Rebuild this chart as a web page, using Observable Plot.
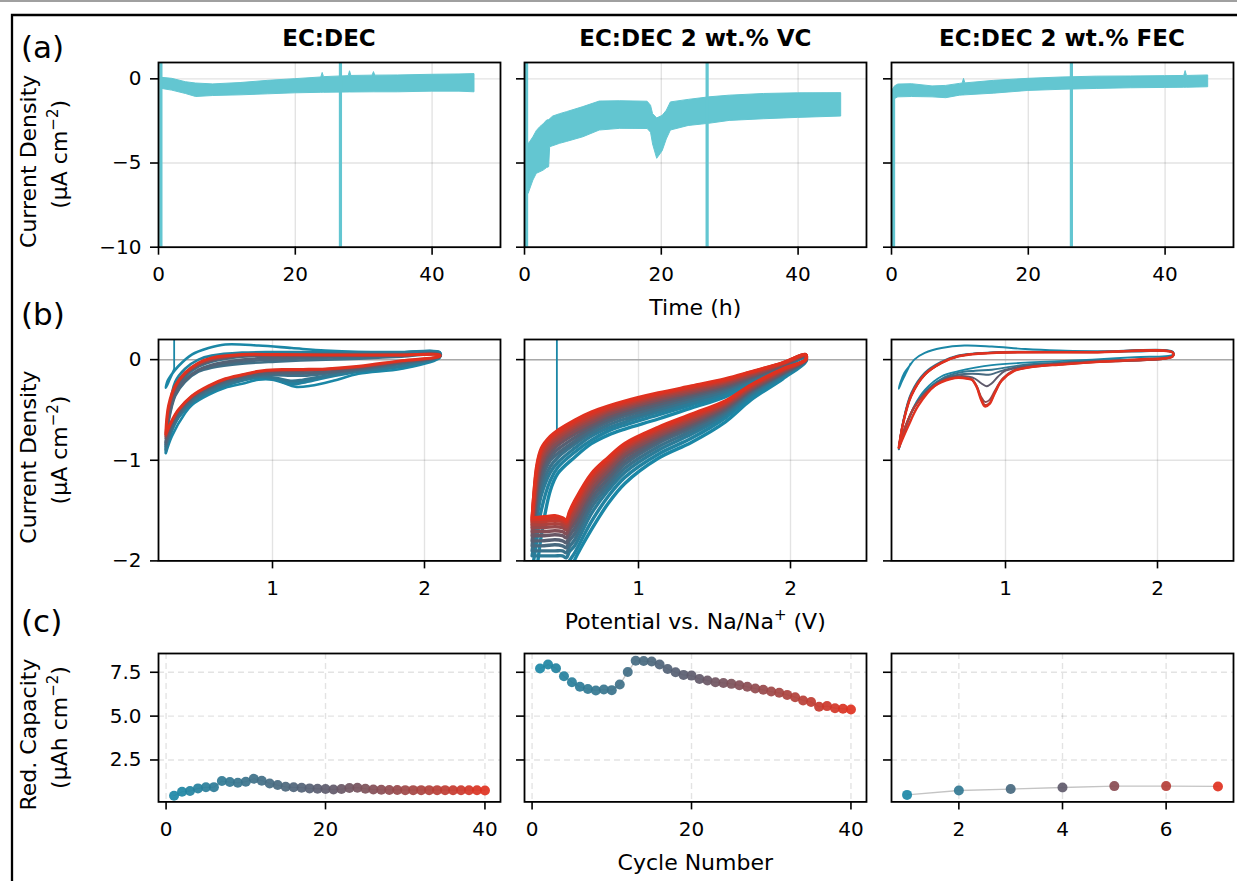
<!DOCTYPE html>
<html><head><meta charset="utf-8">
<script src="https://cdn.jsdelivr.net/npm/d3@7"></script>
<script src="https://cdn.jsdelivr.net/npm/@observablehq/plot@0.6"></script>
<style>
html,body{margin:0;padding:0;background:#fff;}
#fig{position:relative;width:1237px;height:881px;overflow:hidden;background:#fff;}
</style></head><body><div id="fig"></div>
<script>
// ---------- labels ----------
const electrolytes = ["EC:DEC", "EC:DEC 2 wt.% VC", "EC:DEC 2 wt.% FEC"];
const panelLetters = ["(a)", "(b)", "(c)"];

// ---------- (a) chronoamperometry: noisy trace drawn as band (upper / lower edge, µA cm^-2) ----------
const caTimeDEC = [0.5, 2, 4, 5.5, 8, 12, 16, 20, 23.8, 24, 24.2, 27.8, 28, 28.2, 31.3, 31.5, 31.7, 35, 40, 44, 46.2];
const caHiDEC   = [0.06, 0.0, -0.2, -0.28, -0.33, -0.25, -0.12, -0.02, 0.08, 0.35, 0.1, 0.16, 0.45, 0.17, 0.19, 0.4, 0.19, 0.2, 0.24, 0.26, 0.28];
const caLoDEC   = [-0.6, -0.7, -0.9, -1.08, -1.02, -0.98, -0.92, -0.86, -0.83, -0.83, -0.83, -0.81, -0.81, -0.81, -0.8, -0.8, -0.8, -0.8, -0.76, -0.76, -0.8];
const caSpikeTimeDEC = [0.35, 26.6];
const caSpikeTopDEC  = [1, 1];

const caTimeVC = [0.4, 0.6, 1.3, 1.8, 2.3, 2.8, 3.3, 3.6, 3.75, 4.2, 5.2, 6.2, 8.6, 11, 14, 18, 18.5, 18.8, 19.4, 20.2, 20.8, 21.4, 24, 27, 30, 35, 40, 46.3];
const caHiVC   = [-3.4, -3.9, -3.47, -3.1, -2.87, -2.7, -2.48, -2.45, -2.4, -2.24, -2.1, -1.98, -1.68, -1.35, -1.33, -1.36, -1.6, -2.1, -2.35, -2.2, -1.9, -1.4, -1.25, -1.1, -1.0, -0.9, -0.86, -0.85];
const caLoVC   = [-6.5, -6.83, -6.04, -5.64, -5.55, -5.45, -5.3, -5.25, -4.06, -4.0, -3.86, -3.75, -3.47, -3.07, -2.97, -2.98, -3.2, -3.9, -4.75, -4.3, -3.6, -3.07, -2.8, -2.67, -2.5, -2.4, -2.32, -2.24];
const caSpikeTimeVC = [0.3, 26.7];
const caSpikeTopVC  = [1, 1];

const caTimeFEC = [0.3, 0.5, 1, 3, 6, 8, 10, 10.4, 10.6, 10.8, 15, 20, 25, 30, 35, 40, 42.8, 43, 43.2, 46.3];
const caHiFEC   = [-0.6, -0.45, -0.34, -0.32, -0.45, -0.42, -0.3, -0.28, 0.0, -0.27, -0.12, 0.0, 0.08, 0.13, 0.14, 0.16, 0.17, 0.46, 0.17, 0.2];
const caLoFEC   = [-1.4, -1.2, -1.1, -1.08, -1.1, -1.15, -1.0, -0.99, -0.99, -0.98, -0.88, -0.72, -0.65, -0.6, -0.56, -0.54, -0.53, -0.53, -0.53, -0.5];
const caSpikeTimeFEC = [0.3, 26.3];
const caSpikeTopFEC  = [-0.6, 1];

// ---------- (b) cyclic voltammetry (V vs Na/Na+, µA cm^-2) ----------
// EC:DEC: first cycle (with start transient) + selected later cycles on shared potential grids
const cvDecFirst = [[0.353,-0.10],[0.325,-0.19],[0.298,-0.28],[0.31,-0.21],[0.33,-0.16],[0.38,-0.066],[0.469,0.05],[0.579,0.115],[0.689,0.15],[0.908,0.14],[1.127,0.115],[1.346,0.09],[1.566,0.076],[1.85,0.073],[2.10,0.073],[2.10,0.02],[1.85,-0.09],[1.566,-0.14],[1.40,-0.21],[1.25,-0.26],[1.15,-0.27],[1.07,-0.23],[1.0,-0.2],[0.908,-0.2],[0.80,-0.24],[0.689,-0.28],[0.579,-0.35],[0.47,-0.45],[0.425,-0.53],[0.338,-0.76],[0.298,-0.93]];
const cvDecSpike = [0.353, 0.25, -0.10];
const cvDecCycles = [3, 5, 8, 11, 14, 17, 22, 30, 40];
const cvDecUpV = [0.298, 0.316, 0.36, 0.425, 0.513, 0.60, 0.80, 1.02, 1.35, 1.57, 1.85, 2.10];
const cvDecUpI = [
  [-0.92, -0.55, -0.22, -0.09, 0.0, 0.04, 0.07, 0.075, 0.076, 0.076, 0.075, 0.075],
  [-0.90, -0.57, -0.26, -0.13, -0.035, 0.01, 0.05, 0.06, 0.068, 0.07, 0.07, 0.07],
  [-0.88, -0.58, -0.30, -0.17, -0.07, -0.02, 0.03, 0.045, 0.06, 0.065, 0.065, 0.065],
  [-0.85, -0.62, -0.36, -0.22, -0.12, -0.08, -0.04, -0.02, 0.0, 0.01, 0.03, 0.05],
  [-0.83, -0.60, -0.345, -0.21, -0.11, -0.065, -0.02, 0.0, 0.02, 0.03, 0.04, 0.05],
  [-0.82, -0.58, -0.33, -0.20, -0.10, -0.05, 0.0, 0.02, 0.035, 0.04, 0.045, 0.05],
  [-0.78, -0.52, -0.29, -0.15, -0.06, -0.01, 0.035, 0.04, 0.045, 0.045, 0.045, 0.05],
  [-0.76, -0.49, -0.275, -0.14, -0.045, 0.005, 0.045, 0.045, 0.046, 0.045, 0.045, 0.048],
  [-0.73, -0.46, -0.26, -0.13, -0.033, 0.017, 0.05, 0.05, 0.047, 0.045, 0.046, 0.046]
];
const cvDecDownV = [2.10, 1.85, 1.57, 1.35, 1.20, 1.12, 1.02, 0.91, 0.80, 0.69, 0.58, 0.47, 0.38, 0.33, 0.298];
const cvDecDownI = [
  [0.025, -0.07, -0.12, -0.18, -0.23, -0.245, -0.20, -0.18, -0.21, -0.26, -0.33, -0.43, -0.58, -0.74, -0.92],
  [0.028, -0.065, -0.115, -0.17, -0.215, -0.225, -0.19, -0.175, -0.205, -0.255, -0.325, -0.425, -0.575, -0.73, -0.905],
  [0.03, -0.06, -0.11, -0.16, -0.20, -0.21, -0.18, -0.17, -0.20, -0.25, -0.32, -0.42, -0.57, -0.72, -0.89],
  [0.03, -0.04, -0.10, -0.14, -0.16, -0.16, -0.155, -0.16, -0.185, -0.23, -0.30, -0.40, -0.55, -0.70, -0.86],
  [0.03, -0.035, -0.095, -0.13, -0.14, -0.14, -0.14, -0.15, -0.18, -0.22, -0.29, -0.39, -0.54, -0.69, -0.84],
  [0.03, -0.03, -0.09, -0.12, -0.13, -0.13, -0.13, -0.14, -0.17, -0.21, -0.28, -0.38, -0.53, -0.67, -0.82],
  [0.03, -0.02, -0.08, -0.10, -0.11, -0.11, -0.115, -0.125, -0.16, -0.20, -0.27, -0.37, -0.51, -0.65, -0.78],
  [0.032, -0.015, -0.072, -0.096, -0.103, -0.104, -0.107, -0.12, -0.155, -0.195, -0.265, -0.365, -0.505, -0.64, -0.76],
  [0.033, -0.01, -0.066, -0.092, -0.097, -0.099, -0.10, -0.115, -0.15, -0.19, -0.26, -0.36, -0.50, -0.63, -0.74]
];

// EC:DEC 2 wt.% VC
const cvVcSpike = [0.463, 0.3, -0.75];
const cvVcCycles = [1, 3, 6, 10, 14, 18, 22, 26, 29, 32, 35, 38, 40];
const cvVcUpV = [0.30, 0.31, 0.33, 0.36, 0.42, 0.47, 0.58, 0.69, 0.80, 0.91, 1.13, 1.35, 1.57, 1.74, 1.95, 2.10];
const cvVcUpI = [
  [-2.4, -2.3, -2.1, -1.75, -1.30, -1.13, -0.97, -0.835, -0.75, -0.69, -0.59, -0.48, -0.37, -0.24, -0.08, 0.02],
  [-2.1, -2.0, -1.8, -1.5, -1.2, -1.07, -0.92, -0.80, -0.71, -0.65, -0.55, -0.45, -0.35, -0.22, -0.075, 0.025],
  [-1.95, -1.85, -1.6, -1.35, -1.12, -1.02, -0.88, -0.76, -0.68, -0.62, -0.52, -0.43, -0.33, -0.21, -0.07, 0.03],
  [-1.9, -1.78, -1.52, -1.27, -1.06, -0.97, -0.84, -0.73, -0.65, -0.59, -0.495, -0.405, -0.31, -0.2, -0.065, 0.03],
  [-1.85, -1.7, -1.45, -1.2, -1.0, -0.93, -0.81, -0.70, -0.62, -0.56, -0.47, -0.38, -0.29, -0.19, -0.06, 0.03],
  [-1.8, -1.65, -1.39, -1.14, -0.96, -0.89, -0.775, -0.675, -0.595, -0.535, -0.445, -0.36, -0.275, -0.18, -0.055, 0.035],
  [-1.75, -1.6, -1.33, -1.08, -0.92, -0.85, -0.74, -0.65, -0.57, -0.51, -0.42, -0.34, -0.26, -0.17, -0.05, 0.04],
  [-1.71, -1.55, -1.27, -1.04, -0.885, -0.82, -0.71, -0.625, -0.545, -0.49, -0.40, -0.325, -0.245, -0.16, -0.045, 0.04],
  [-1.67, -1.5, -1.22, -1.0, -0.85, -0.79, -0.68, -0.60, -0.52, -0.47, -0.38, -0.31, -0.23, -0.15, -0.04, 0.04],
  [-1.64, -1.46, -1.17, -0.96, -0.825, -0.765, -0.66, -0.58, -0.505, -0.455, -0.365, -0.295, -0.22, -0.14, -0.038, 0.045],
  [-1.61, -1.42, -1.13, -0.93, -0.80, -0.74, -0.64, -0.56, -0.49, -0.44, -0.35, -0.28, -0.21, -0.13, -0.035, 0.05],
  [-1.59, -1.38, -1.09, -0.9, -0.78, -0.72, -0.62, -0.54, -0.475, -0.425, -0.34, -0.27, -0.2, -0.125, -0.032, 0.05],
  [-1.57, -1.35, -1.05, -0.88, -0.76, -0.70, -0.60, -0.52, -0.46, -0.41, -0.33, -0.26, -0.19, -0.12, -0.03, 0.05]
];
const cvVcDownV = [2.10, 1.95, 1.74, 1.57, 1.35, 1.13, 0.91, 0.80, 0.69, 0.58, 0.545, 0.525, 0.50, 0.45, 0.38, 0.31];
const cvVcDownI = [
  [-0.02, -0.19, -0.40, -0.62, -0.82, -0.98, -1.23, -1.43, -1.69, -1.99, -2.12, -2.2, -2.3, -2.3, -2.3, -2.3],
  [-0.015, -0.175, -0.37, -0.58, -0.78, -0.94, -1.17, -1.36, -1.61, -1.92, -2.0, -2.06, -2.05, -2.05, -2.05, -2.05],
  [-0.01, -0.16, -0.35, -0.55, -0.74, -0.90, -1.12, -1.30, -1.53, -1.85, -1.91, -1.97, -1.95, -1.95, -1.95, -1.95],
  [-0.01, -0.15, -0.335, -0.53, -0.71, -0.865, -1.08, -1.26, -1.47, -1.79, -1.86, -1.92, -1.9, -1.9, -1.9, -1.9],
  [-0.01, -0.14, -0.32, -0.51, -0.68, -0.83, -1.04, -1.22, -1.42, -1.73, -1.80, -1.87, -1.85, -1.84, -1.85, -1.85],
  [-0.005, -0.135, -0.31, -0.495, -0.66, -0.805, -1.005, -1.18, -1.375, -1.675, -1.75, -1.82, -1.8, -1.79, -1.8, -1.8],
  [0.0, -0.13, -0.30, -0.48, -0.64, -0.78, -0.97, -1.14, -1.33, -1.62, -1.70, -1.77, -1.75, -1.74, -1.75, -1.75],
  [0.0, -0.12, -0.29, -0.465, -0.62, -0.76, -0.94, -1.105, -1.29, -1.575, -1.66, -1.73, -1.71, -1.70, -1.71, -1.71],
  [0.0, -0.11, -0.28, -0.45, -0.60, -0.74, -0.91, -1.07, -1.25, -1.53, -1.62, -1.69, -1.67, -1.66, -1.67, -1.67],
  [0.0, -0.105, -0.27, -0.44, -0.585, -0.72, -0.89, -1.045, -1.215, -1.495, -1.59, -1.66, -1.64, -1.63, -1.64, -1.64],
  [0.0, -0.10, -0.26, -0.43, -0.57, -0.70, -0.87, -1.02, -1.18, -1.46, -1.55, -1.63, -1.61, -1.60, -1.61, -1.61],
  [0.0, -0.095, -0.255, -0.42, -0.555, -0.685, -0.85, -0.995, -1.155, -1.43, -1.53, -1.61, -1.59, -1.575, -1.585, -1.59],
  [0.0, -0.09, -0.25, -0.41, -0.54, -0.67, -0.83, -0.97, -1.13, -1.40, -1.51, -1.59, -1.57, -1.55, -1.56, -1.57]
];

// EC:DEC 2 wt.% FEC: 7 cycles, [V, I] pairs (anodic part, cathodic part)
const cvFecUp = [
  [[0.375,-0.04],[0.35,-0.12],[0.32,-0.21],[0.298,-0.29],[0.31,-0.22],[0.335,-0.13],[0.375,-0.05],[0.40,0.0],[0.469,0.066],[0.579,0.115],[0.73,0.14],[0.91,0.13],[1.13,0.105],[1.35,0.09],[1.57,0.083],[1.85,0.08],[2.10,0.08]],
  [[0.298,-0.89],[0.327,-0.61],[0.38,-0.33],[0.469,-0.13],[0.579,-0.02],[0.689,0.042],[0.908,0.072],[1.57,0.079],[2.10,0.076]],
  [[0.298,-0.88],[0.327,-0.62],[0.38,-0.34],[0.469,-0.14],[0.579,-0.028],[0.689,0.037],[0.908,0.069],[1.57,0.076],[2.10,0.073]],
  [[0.298,-0.88],[0.327,-0.62],[0.38,-0.35],[0.469,-0.145],[0.579,-0.03],[0.689,0.035],[0.908,0.068],[1.57,0.075],[2.10,0.072]],
  [[0.298,-0.875],[0.327,-0.63],[0.38,-0.355],[0.469,-0.148],[0.579,-0.032],[0.689,0.034],[0.908,0.067],[1.57,0.074],[2.10,0.071]],
  [[0.298,-0.875],[0.327,-0.63],[0.38,-0.36],[0.469,-0.15],[0.579,-0.033],[0.689,0.033],[0.908,0.066],[1.57,0.073],[2.10,0.07]],
  [[0.298,-0.875],[0.327,-0.63],[0.38,-0.36],[0.469,-0.15],[0.579,-0.033],[0.689,0.033],[0.908,0.066],[1.57,0.073],[2.10,0.07]]
];
const cvFecDown = [
  [[2.10,0.05],[1.85,0.025],[1.57,0.0],[1.35,-0.015],[1.13,-0.03],[0.91,-0.055],[0.80,-0.08],[0.69,-0.115],[0.58,-0.165],[0.47,-0.30],[0.40,-0.46],[0.34,-0.69],[0.298,-0.89]],
  [[2.10,0.04],[1.57,-0.01],[1.35,-0.03],[1.13,-0.05],[1.0,-0.08],[0.91,-0.10],[0.80,-0.11],[0.69,-0.13],[0.58,-0.19],[0.47,-0.32],[0.40,-0.47],[0.34,-0.68],[0.298,-0.89]],
  [[2.10,0.035],[1.57,-0.015],[1.35,-0.035],[1.13,-0.06],[1.0,-0.10],[0.94,-0.13],[0.89,-0.15],[0.84,-0.145],[0.78,-0.14],[0.69,-0.15],[0.58,-0.2],[0.47,-0.33],[0.40,-0.47],[0.34,-0.68],[0.298,-0.88]],
  [[2.10,0.035],[1.57,-0.02],[1.35,-0.04],[1.13,-0.07],[1.0,-0.11],[0.95,-0.17],[0.91,-0.235],[0.875,-0.265],[0.84,-0.235],[0.80,-0.19],[0.76,-0.17],[0.69,-0.165],[0.58,-0.21],[0.47,-0.34],[0.40,-0.47],[0.34,-0.67],[0.298,-0.88]],
  [[2.10,0.033],[1.57,-0.025],[1.35,-0.045],[1.13,-0.08],[1.05,-0.11],[0.98,-0.19],[0.93,-0.31],[0.895,-0.40],[0.865,-0.42],[0.84,-0.37],[0.81,-0.26],[0.78,-0.20],[0.75,-0.185],[0.69,-0.175],[0.58,-0.215],[0.47,-0.34],[0.40,-0.47],[0.34,-0.67],[0.298,-0.875]],
  [[2.10,0.033],[1.57,-0.026],[1.35,-0.05],[1.13,-0.082],[1.05,-0.115],[0.975,-0.21],[0.93,-0.33],[0.895,-0.43],[0.865,-0.45],[0.84,-0.39],[0.81,-0.27],[0.78,-0.20],[0.75,-0.188],[0.69,-0.178],[0.58,-0.218],[0.47,-0.345],[0.40,-0.47],[0.34,-0.665],[0.298,-0.875]],
  [[2.10,0.033],[1.85,0.0],[1.57,-0.026],[1.35,-0.05],[1.24,-0.06],[1.13,-0.083],[1.06,-0.11],[0.974,-0.21],[0.93,-0.33],[0.895,-0.44],[0.864,-0.465],[0.84,-0.40],[0.81,-0.27],[0.78,-0.20],[0.754,-0.19],[0.689,-0.18],[0.645,-0.19],[0.535,-0.26],[0.425,-0.46],[0.36,-0.66],[0.298,-0.875]]
];

// ---------- (c) reduction capacity per cycle (µAh cm^-2) ----------
const capDEC = [0.46,0.69,0.73,0.88,0.94,0.95,1.30,1.24,1.20,1.26,1.43,1.32,1.16,1.07,0.97,0.94,0.92,0.88,0.86,0.84,0.82,0.84,0.90,0.92,0.86,0.82,0.80,0.79,0.79,0.78,0.78,0.78,0.78,0.78,0.78,0.77,0.77,0.77,0.77,0.76];
const capVC  = [7.71,7.94,7.73,7.27,6.93,6.67,6.55,6.46,6.52,6.48,6.80,7.52,8.16,8.14,8.11,7.94,7.69,7.50,7.35,7.31,7.12,7.03,6.93,6.89,6.84,6.76,6.67,6.57,6.50,6.40,6.33,6.21,6.08,5.89,5.81,5.53,5.57,5.45,5.42,5.38];
const capFEC = [0.51,0.76,0.84,0.93,1.01,1.01,0.99];

// ---------- ticks / colours ----------
const timeTicks = [0, 20, 40], currentTicksA = [-10, -5, 0];
const potTicks = [1, 2], currentTicksB = [-2, -1, 0];
const cycleTicks = [0, 20, 40], cycleTicksFEC = [2, 4, 6], capTicks = [2.5, 5.0, 7.5];
const caColor = "#63c6d1";
const cycleColors = ["#1b87a6", "#5f5a6b", "#e0311f"];

// ---------- helpers ----------
const fig = document.getElementById("fig");
const FONT = "'DejaVu Sans', Verdana, sans-serif";
const W = 342;
const M = {l: 70, r: 8, t: 8, b: 50};
const colLeft = [158, 524.3, 891];
const rowTop = {a: 62, b: 339.3, c: 653.3};
const rowH = {a: 184.7, b: 221.4, c: 148.4};
const intFmt = d3.format("d");

function panel(o) {
  const g = {stroke: "#000", strokeOpacity: 0.11, strokeWidth: 1.4};
  if (o.dashed) g.strokeDasharray = "6,4";
  const svg = Plot.plot({
    width: W + M.l + M.r, height: o.h + M.t + M.b,
    marginLeft: M.l, marginRight: M.r, marginTop: M.t, marginBottom: M.b,
    style: {fontFamily: FONT, fontSize: "20px", color: "#000", background: "transparent", overflow: "visible"},
    x: {domain: o.x, label: null},
    y: {domain: o.y, label: null},
    color: o.color,
    marks: [
      Plot.gridX({ticks: o.xTicks, ...g}),
      Plot.gridY({ticks: o.yTicks, ...g}),
      ...o.marks,
      Plot.frame({stroke: "#000", strokeWidth: 1.8}),
      Plot.axisX({ticks: o.xTicks, tickSize: 8, tickPadding: 12, strokeWidth: 1.6, label: null, tickFormat: intFmt}),
      Plot.axisY({ticks: o.yTicks, tickSize: 8, tickPadding: 9, strokeWidth: 1.6, label: null,
        tickFormat: o.showY ? (o.yFmt || intFmt) : () => ""})
    ]
  });
  svg.style.position = "absolute";
  svg.style.left = (o.left - M.l) + "px";
  svg.style.top = (o.top - M.t) + "px";
  fig.appendChild(svg);
}

function bandRows(t, hi, lo) { return t.map((d, i) => ({t: d, hi: hi[i], lo: lo[i]})); }
function spikeRows(t, top) { return t.map((d, i) => ({t: d, top: top[i], bottom: -11})); }
function gridLoops(cycles, upV, upI, downV, downI) {
  const rows = [];
  cycles.forEach((c, k) => {
    upV.forEach((v, i) => rows.push({cycle: c, V: v, I: upI[k][i]}));
    downV.forEach((v, i) => rows.push({cycle: c, V: v, I: downI[k][i]}));
  });
  return rows;
}
function pairLoops(up, down) {
  const rows = [];
  up.forEach((u, k) => {
    u.forEach(([V, I]) => rows.push({cycle: k + 1, V, I}));
    down[k].forEach(([V, I]) => rows.push({cycle: k + 1, V, I}));
  });
  return rows;
}

// ---------- row (a) ----------
const caSets = [
  [caTimeDEC, caHiDEC, caLoDEC, caSpikeTimeDEC, caSpikeTopDEC],
  [caTimeVC, caHiVC, caLoVC, caSpikeTimeVC, caSpikeTopVC],
  [caTimeFEC, caHiFEC, caLoFEC, caSpikeTimeFEC, caSpikeTopFEC]
];
caSets.forEach(([t, hi, lo, st, stop], i) => {
  panel({
    left: colLeft[i], top: rowTop.a, h: rowH.a,
    x: [0, 50], y: [-10, 0.97], xTicks: timeTicks, yTicks: currentTicksA, showY: i === 0,
    marks: [
      Plot.areaY(bandRows(t, hi, lo), {x: "t", y1: "lo", y2: "hi", fill: caColor, stroke: caColor, strokeWidth: 1, clip: true}),
      Plot.ruleX(spikeRows(st, stop), {x: "t", y1: "top", y2: "bottom", stroke: caColor, strokeWidth: 3.2, clip: true})
    ]
  });
});

// ---------- row (b) ----------
const colorCV40 = {type: "linear", domain: [1, 40], interpolate: d3.piecewise(d3.interpolateRgb, cycleColors)};
const colorCV7 = {type: "linear", domain: [1, 7], interpolate: d3.piecewise(d3.interpolateRgb, cycleColors)};

function cvMarks(rows, lastCycle, wNorm, wLast, spike) {
  const m = [Plot.ruleY([0], {stroke: "#a8a8a8", strokeWidth: 1.5})];
  if (spike) m.push(Plot.ruleX([{V: spike[0], a: spike[1], b: spike[2], cycle: 1}], {x: "V", y1: "a", y2: "b", stroke: "cycle", strokeWidth: 1.8, clip: true}));
  m.push(Plot.line(rows.filter(d => d.cycle !== lastCycle), {x: "V", y: "I", z: "cycle", stroke: "cycle", strokeWidth: wNorm, curve: "catmull-rom", clip: true}));
  m.push(Plot.line(rows.filter(d => d.cycle === lastCycle), {x: "V", y: "I", z: "cycle", stroke: "cycle", strokeWidth: wLast, curve: "catmull-rom", clip: true}));
  return m;
}

const decRows = cvDecFirst.map(([V, I]) => ({cycle: 1, V, I}))
  .concat(gridLoops(cvDecCycles, cvDecUpV, cvDecUpI, cvDecDownV, cvDecDownI));
panel({left: colLeft[0], top: rowTop.b, h: rowH.b, x: [0.25, 2.5], y: [-2, 0.2], xTicks: potTicks, yTicks: currentTicksB, showY: true,
  color: colorCV40, marks: cvMarks(decRows, 40, 2.6, 3.0, cvDecSpike)});
const vcRows = gridLoops(cvVcCycles, cvVcUpV, cvVcUpI, cvVcDownV, cvVcDownI);
panel({left: colLeft[1], top: rowTop.b, h: rowH.b, x: [0.25, 2.5], y: [-2, 0.2], xTicks: potTicks, yTicks: currentTicksB, showY: false,
  color: colorCV40, marks: cvMarks(vcRows, 40, 3.4, 3.0, cvVcSpike)});
const fecRows = pairLoops(cvFecUp, cvFecDown);
panel({left: colLeft[2], top: rowTop.b, h: rowH.b, x: [0.25, 2.5], y: [-2, 0.2], xTicks: potTicks, yTicks: currentTicksB, showY: false,
  color: colorCV7, marks: cvMarks(fecRows, 7, 1.9, 2.5, null)});

// ---------- row (c) ----------
const capSets = [[capDEC, colorCV40, [-0.95, 41.95], cycleTicks], [capVC, colorCV40, [-0.95, 41.95], cycleTicks], [capFEC, colorCV7, [0.7, 7.3], cycleTicksFEC]];
capSets.forEach(([vals, col, xd, xt], i) => {
  const rows = vals.map((v, k) => ({cycle: k + 1, cap: v}));
  panel({left: colLeft[i], top: rowTop.c, h: rowH.c, x: xd, y: [0.11, 8.57], xTicks: xt, yTicks: capTicks, showY: i === 0,
    yFmt: d3.format(".1f"), dashed: true, color: col,
    marks: [
      Plot.line(rows, {x: "cycle", y: "cap", stroke: "#c4c4c4", strokeWidth: 1.3}),
      Plot.dot(rows, {x: "cycle", y: "cap", fill: "cycle", r: 5, fillOpacity: 0.92})
    ]});
});

// ---------- text overlay & figure frame ----------
const ov = d3.select(fig).append("svg").attr("width", 1237).attr("height", 881)
  .style("position", "absolute").style("left", 0).style("top", 0).style("pointer-events", "none")
  .style("font-family", FONT).style("fill", "#000");
ov.append("line").attr("x1", 0).attr("x2", 1237).attr("y1", 1).attr("y2", 1).attr("stroke", "#a0a0a0").attr("stroke-width", 2);
ov.append("path").attr("d", "M12,881V15H1237").attr("fill", "none").attr("stroke", "#000").attr("stroke-width", 2.3);

const colCenters = colLeft.map(l => l + W / 2);
electrolytes.forEach((e, i) => ov.append("text").attr("x", colCenters[i]).attr("y", 46).attr("text-anchor", "middle")
  .attr("font-size", 23).attr("font-weight", "bold").text(e));
[[panelLetters[0], 58], [panelLetters[1], 325], [panelLetters[2], 632]].forEach(([t, y]) =>
  ov.append("text").attr("x", 21).attr("y", y).attr("font-size", 31).text(t));

function ylab(cy, l1, l2a, sup, l2b) {
  ov.append("text").attr("transform", `translate(36,${cy + 7}) rotate(-90)`).attr("text-anchor", "middle").attr("font-size", 22).text(l1);
  const t = ov.append("text").attr("transform", `translate(67,${cy}) rotate(-90)`).attr("text-anchor", "middle").attr("font-size", 22);
  t.append("tspan").text(l2a);
  t.append("tspan").attr("dy", -9).attr("font-size", 15).text(sup);
  t.append("tspan").attr("dy", 9).text(l2b);
}
ylab(rowTop.a + rowH.a / 2, "Current Density", "(μA cm", "−2", ")");
ylab(rowTop.b + rowH.b / 2, "Current Density", "(μA cm", "−2", ")");
ylab(rowTop.c + rowH.c / 2, "Red. Capacity", "(μAh cm", "−2", ")");

ov.append("text").attr("x", colCenters[1]).attr("y", 315).attr("text-anchor", "middle").attr("font-size", 22).text("Time (h)");
const pl = ov.append("text").attr("x", colCenters[1]).attr("y", 629).attr("text-anchor", "middle").attr("font-size", 22);
pl.append("tspan").text("Potential vs. Na/Na");
pl.append("tspan").attr("dy", -9).attr("font-size", 15).text("+");
pl.append("tspan").attr("dy", 9).text(" (V)");
ov.append("text").attr("x", colCenters[1]).attr("y", 870).attr("text-anchor", "middle").attr("font-size", 22).text("Cycle Number");
</script></body></html>
